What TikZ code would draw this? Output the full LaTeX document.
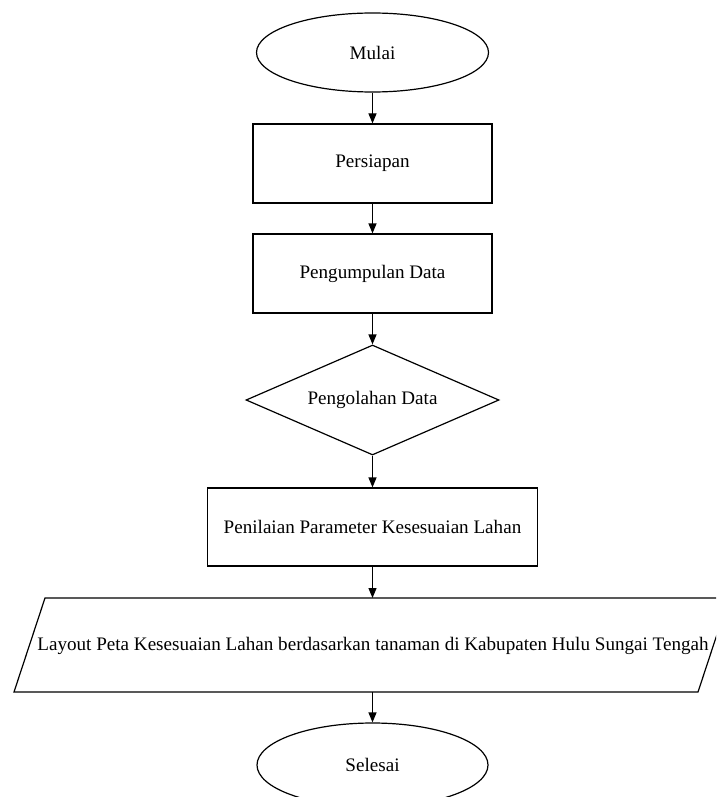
\documentclass[tikz,border=0pt]{standalone}
\usepackage{fontspec}
\setmainfont{Liberation Serif}
\usetikzlibrary{shapes.geometric,arrows.meta}
\begin{document}
\begin{tikzpicture}[x=1pt,y=-1pt,
  every node/.style={font=\fontsize{19.1}{23}\selectfont, inner sep=0pt},
  lw/.style={line width=1.2pt},
  term/.style={ellipse, draw, lw, minimum width=232pt, minimum height=79pt},
  procbox/.style={rectangle, draw, lw},
  decbox/.style={diamond, draw, lw, shape aspect=2.3, minimum width=253pt, minimum height=110pt},
  arr/.style={lw, -{Triangle[length=10pt,width=8pt]}}]
\clip (0,0) rectangle (716,797);
\useasboundingbox (0,0) rectangle (716,797);
\fill[white] (0,0) rectangle (716,797);
\node[term] (mulai) at (372.5,52.5) {Mulai};
\node[procbox, minimum width=239pt, minimum height=79pt] (persiapan) at (372.5,163.5) {Persiapan};
\node[procbox, minimum width=239pt, minimum height=79pt] (pengumpulan) at (372.5,273.5) {Pengumpulan Data};
\node[decbox] (olah) at (372.5,400) {Pengolahan Data};
\node[procbox, minimum width=330pt, minimum height=78pt] (nilai) at (372.5,527) {Penilaian Parameter Kesesuaian Lahan};
\coordinate (ptl) at (45,598);
\coordinate (ptr) at (729,598);
\coordinate (pbr) at (698,692);
\coordinate (pbl) at (14,692);
\draw[lw] (ptl) -- (ptr) -- (pbr) -- (pbl) -- cycle;
\node (layout) at (373,646) {Layout Peta Kesesuaian Lahan berdasarkan tanaman di Kabupaten Hulu Sungai Tengah};
\coordinate (ltop) at (372.5,598);
\coordinate (lbot) at (372.5,692);
\node[term, minimum width=231pt, minimum height=84pt] (selesai) at (372.5,765) {Selesai};
\draw[arr] (mulai.south) -- (persiapan.north);
\draw[arr] (persiapan.south) -- (pengumpulan.north);
\draw[arr] (pengumpulan.south) -- (olah.north);
\draw[arr] (olah.south) -- (nilai.north);
\draw[arr] (nilai.south) -- (ltop);
\draw[arr] (lbot) -- (selesai.north);
\end{tikzpicture}
\end{document}
